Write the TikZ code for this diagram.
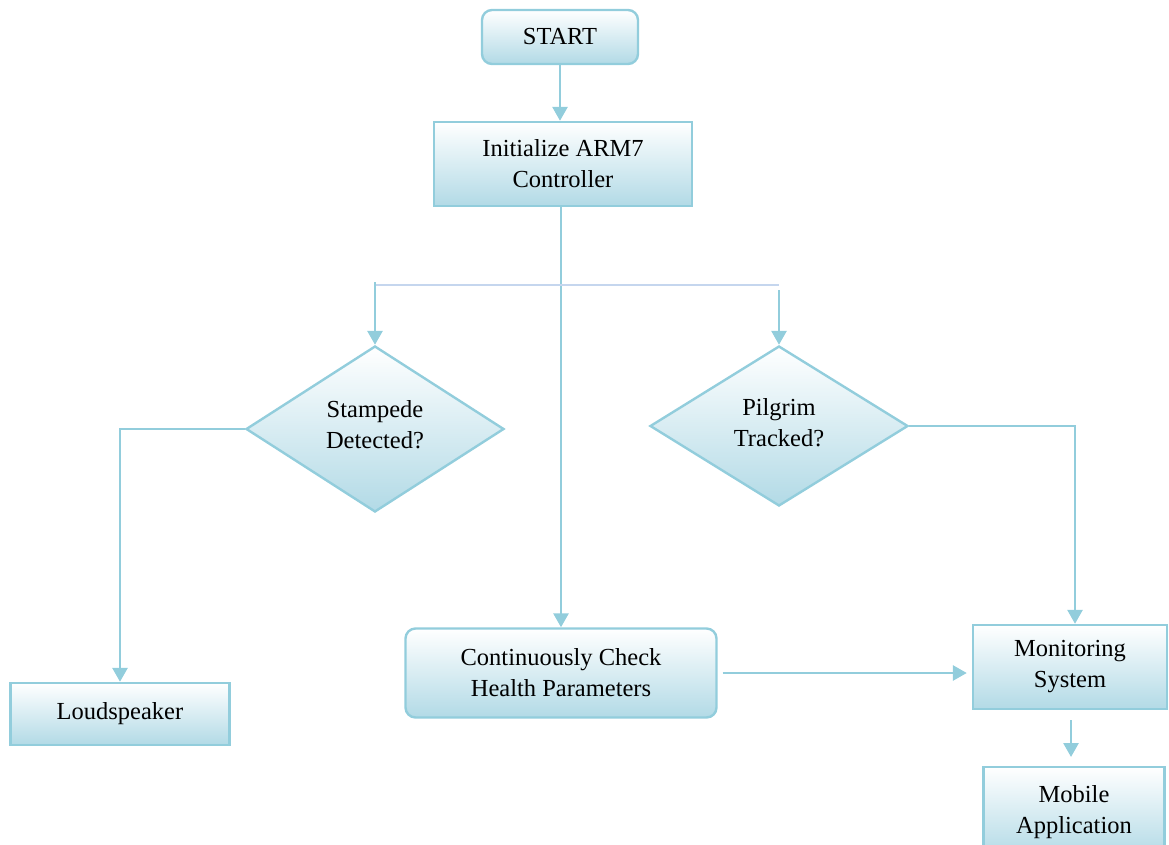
\documentclass[tikz,border=0pt]{standalone}
\usepackage{fontspec}
\setmainfont{Liberation Serif}
\usetikzlibrary{arrows.meta,shapes.geometric,positioning}
\definecolor{ln}{RGB}{146,205,220}
\definecolor{fillb}{RGB}{178,218,230}
\definecolor{lav}{RGB}{197,214,238}
\tikzset{
  box/.style={draw=ln,line width=2.4pt,top color=white,bottom color=fillb,align=center,
    font=\fontsize{24.5}{31}\selectfont,inner sep=0pt},
  rbox/.style={box,rounded corners=10pt},
  dia/.style={box,diamond,aspect=1.55},
  txt/.style={align=center,font=\fontsize{24.5}{31}\selectfont,inner sep=0pt},
  conn/.style={ln,line width=2.8pt,-{Triangle[width=15pt,length=14pt]}},
}
\begin{document}
\begin{tikzpicture}[x=1pt,y=-1pt]
\useasboundingbox (0,0) rectangle (1169,845);
\node[rbox,minimum width=156pt,minimum height=54pt] (start) at (560,37) {START};
\node[box,minimum width=258pt,minimum height=84pt] (init) at (563,164) {Initialize ARM7\\Controller};
\node[dia,minimum width=258pt,minimum height=166pt] (stamp) at (375,429) {};
\node[txt] (stampt) at ([yshift=4pt]stamp.center) {Stampede\\Detected?};
\node[dia,minimum width=258pt,minimum height=160pt] (pil) at (779,426) {};
\node[txt] (pilt) at ([yshift=3pt]pil.center) {Pilgrim\\Tracked?};
\node[rbox,minimum width=311pt,minimum height=89pt] (cont) at (561,673) {Continuously Check\\Health Parameters};
\node[box,minimum width=194pt,minimum height=84pt] (mon) at (1070,667) {Monitoring\\System};
\node[box,minimum width=181pt,minimum height=90pt] (mob) at (1074,812) {Mobile\\Application};
\node[box,minimum width=219pt,minimum height=62pt] (loud) at (120,714) {Loudspeaker};
\coordinate (hl) at (375,285);
\coordinate (hr) at (779,285);
\coordinate (ma) at (1071,720);
\coordinate (mb) at (1071,757);
\draw[conn] (start.south) -- (start.south |- init.north);
\draw[conn] (cont.north |- init.south) -- (cont.north);
\draw[lav,line width=2.6pt] (hl) -- (hr);
\draw[conn] ([yshift=3pt]hl) -- (stamp.north);
\draw[conn] ([yshift=-5pt]hr) -- (pil.north);
\draw[conn] (stamp.west) -| (loud.north);
\draw[conn] (pil.east) -| ([xshift=5pt]mon.north);
\draw[conn] ([xshift=5pt]cont.east) -- ([xshift=-5pt]mon.west |- cont.east);
\draw[conn] (ma) -- (mb);
\end{tikzpicture}
\end{document}
